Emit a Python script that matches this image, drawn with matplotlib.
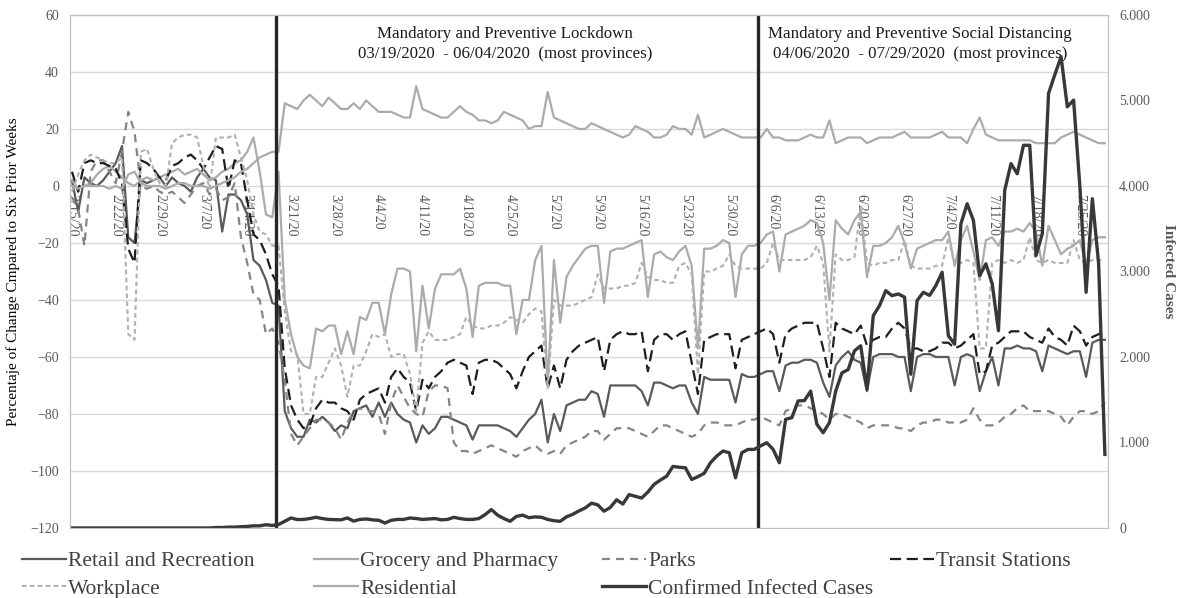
import numpy as np
import matplotlib
matplotlib.use("Agg")
from matplotlib import pyplot as plt
from matplotlib.ticker import FuncFormatter

plt.rcParams['font.family'] = ['Liberation Serif', 'DejaVu Serif']

# daily values, 2/15/20 .. 7/29/20 (one row = one week, Sat..Fri)
retail = [
    2, -9, 3, 1, 0, 2, 5,
    8, 14, -18, -20, 2, 1, 2,
    3, 0, 3, 1, 0, -2, 3,
    6, 3, 2, -16, -3, -3, -5,
    -10, -26, -28, -33, -41, -42, -79,
    -85, -88, -88, -82, -83, -81, -83,
    -86, -84, -85, -79, -78, -77, -81,
    -76, -81, -76, -80, -82, -83, -90,
    -84, -87, -85, -81, -81, -82, -83,
    -84, -89, -84, -84, -84, -84, -85,
    -86, -88, -85, -82, -80, -75, -90,
    -80, -86, -77, -76, -75, -75, -72,
    -73, -81, -70, -70, -70, -70, -70,
    -72, -77, -69, -69, -70, -71, -70,
    -70, -76, -80, -67, -68, -68, -68,
    -68, -76, -66, -67, -67, -66, -65,
    -65, -72, -63, -62, -62, -61, -61,
    -62, -69, -74, -63, -60, -58, -61,
    -62, -72, -60, -59, -59, -59, -60,
    -60, -72, -60, -59, -59, -60, -60,
    -60, -70, -60, -59, -60, -72, -65,
    -60, -70, -57, -57, -56, -57, -57,
    -58, -65, -56, -57, -58, -59, -58,
    -58, -67, -55, -54, -54]

grocery = [
    2, -1, 0, 1, 4, 6, 7,
    5, 3, 1, 0, 2, 3, 2,
    3, 4, 5, 6, 4, 5, 6,
    4, 2, 3, 5, 6, 8, 9,
    12, 17, 5, -10, -11, 5, -40,
    -52, -60, -63, -64, -50, -51, -49,
    -49, -59, -51, -59, -46, -47, -41,
    -41, -52, -38, -29, -29, -30, -58,
    -35, -50, -36, -31, -31, -31, -29,
    -36, -53, -35, -34, -34, -34, -35,
    -35, -52, -40, -40, -26, -21, -70,
    -26, -48, -32, -28, -25, -22, -21,
    -21, -41, -23, -22, -22, -21, -20,
    -19, -39, -24, -23, -25, -26, -23,
    -21, -28, -57, -22, -22, -21, -19,
    -20, -39, -24, -21, -21, -20, -17,
    -16, -30, -17, -16, -15, -14, -12,
    -13, -20, -40, -12, -15, -17, -12,
    -9, -32, -21, -21, -20, -18, -14,
    -20, -29, -22, -21, -20, -19, -19,
    -16, -28, -19, -14, -23, -33, -19,
    -18, -21, -16, -16, -15, -16, -13,
    -16, -28, -14, -19, -24, -22, -21,
    -19, -28, -19, -18, -18]

parks = [
    -4, -8, -21, 5, 9, 9, 5,
    1, 12, 26, 19, 0, -1, 0,
    -2, -3, -2, -4, -6, -3, 0,
    1, -3, -1, -5, -4, 1, -18,
    -27, -38, -40, -52, -50, -55, -68,
    -87, -91, -88, -85, -82, -82, -83,
    -85, -89, -83, -79, -78, -79, -79,
    -80, -87, -76, -70, -74, -78, -80,
    -81, -72, -70, -70, -71, -90, -93,
    -93, -94, -93, -92, -91, -92, -93,
    -94, -95, -93, -92, -91, -93, -94,
    -93, -94, -91, -90, -89, -88, -86,
    -86, -89, -87, -85, -85, -85, -86,
    -87, -88, -86, -84, -84, -85, -86,
    -87, -88, -87, -84, -83, -83, -84,
    -84, -84, -83, -82, -82, -81, -82,
    -83, -84, -79, -78, -77, -77, -78,
    -79, -80, -82, -80, -80, -81, -82,
    -83, -85, -84, -84, -84, -84, -85,
    -85, -86, -84, -83, -83, -82, -82,
    -83, -83, -83, -82, -78, -82, -84,
    -84, -83, -81, -80, -78, -77, -79,
    -79, -79, -79, -80, -81, -84, -81,
    -79, -79, -80, -79, -76]

transit = [
    5, -2, 8, 9, 8, 8, 7,
    6, 1, -22, -27, 9, 8, 6,
    3, 2, 7, 8, 10, 11, 9,
    6, 10, 14, 13, -1, 9, 8,
    -5, -17, -19, -24, -31, -35, -64,
    -77, -82, -85, -84, -78, -75, -76,
    -76, -78, -79, -82, -75, -73, -72,
    -71, -76, -67, -64, -67, -69, -79,
    -68, -71, -67, -65, -62, -61, -62,
    -63, -73, -62, -61, -61, -62, -64,
    -66, -71, -65, -60, -58, -56, -71,
    -63, -71, -61, -58, -56, -55, -54,
    -53, -65, -54, -52, -51, -52, -52,
    -51, -65, -54, -52, -52, -54, -52,
    -51, -62, -73, -54, -53, -52, -52,
    -52, -64, -54, -53, -52, -51, -50,
    -52, -62, -52, -50, -49, -48, -48,
    -48, -57, -67, -48, -50, -51, -52,
    -49, -56, -54, -53, -53, -50, -48,
    -50, -57, -57, -58, -58, -57, -55,
    -55, -57, -56, -54, -52, -66, -65,
    -56, -55, -53, -51, -51, -51, -53,
    -54, -55, -50, -53, -54, -56, -49,
    -51, -56, -53, -52, -51]

workplace = [
    -2, 4, 9, 11, 10, 9, 8,
    8, 10, -52, -54, 12, 13, 6,
    1, 0, 15, 17, 18, 18, 17,
    7, -1, 17, 17, 17, 18, 10,
    2, -10, -16, -17, -21, -21, -44,
    -58, -59, -80, -80, -67, -67, -62,
    -57, -63, -74, -63, -63, -58, -52,
    -53, -52, -60, -59, -59, -66, -79,
    -55, -51, -54, -54, -54, -53, -52,
    -46, -49, -50, -50, -49, -49, -48,
    -46, -47, -48, -45, -43, -44, -71,
    -40, -42, -42, -42, -41, -40, -39,
    -31, -36, -36, -36, -35, -35, -34,
    -27, -32, -33, -33, -34, -34, -28,
    -27, -31, -66, -30, -30, -29, -28,
    -24, -28, -29, -29, -29, -29, -27,
    -20, -26, -26, -26, -26, -26, -25,
    -21, -27, -58, -24, -26, -26, -25,
    -7, -27, -28, -27, -27, -26, -26,
    -19, -28, -29, -29, -29, -28, -28,
    -18, -28, -27, -26, -27, -57, -57,
    -27, -26, -27, -26, -27, -26, -18,
    -26, -27, -26, -27, -27, -27, -19,
    -26, -27, -26, -26, -26]

residential = [
    0, -1, 0, 0, 0, 0, -1,
    0, -1, 4, 5, 1, 0, 0,
    0, -1, 0, 1, 1, 0, 0,
    0, -1, 0, 1, 2, 3, 5,
    6, 8, 10, 11, 12, 12, 29,
    28, 27, 30, 32, 30, 28, 31,
    29, 27, 27, 29, 27, 30, 28,
    26, 26, 26, 25, 24, 24, 35,
    27, 26, 25, 24, 24, 26, 28,
    26, 25, 23, 23, 22, 23, 26,
    25, 24, 23, 20, 21, 21, 33,
    24, 23, 22, 21, 20, 20, 22,
    21, 20, 19, 18, 17, 18, 21,
    20, 19, 17, 17, 18, 21, 20,
    20, 18, 25, 17, 18, 19, 20,
    19, 18, 17, 17, 17, 17, 20,
    17, 17, 16, 16, 16, 17, 18,
    17, 17, 23, 15, 16, 17, 17,
    17, 15, 16, 17, 17, 17, 18,
    19, 17, 17, 17, 17, 18, 19,
    17, 17, 17, 15, 20, 24, 18,
    17, 16, 16, 16, 16, 16, 16,
    15, 15, 15, 15, 17, 18, 19,
    18, 17, 16, 15, 15]

cases = [
    0, 0, 0, 0, 0, 0, 0,
    0, 0, 0, 0, 0, 0, 0,
    0, 0, 0, 0, 0, 0, 0,
    0, 0, 5, 5, 10, 10, 15,
    18, 25, 25, 38, 30, 40, 78,
    117, 98, 100, 110, 125, 110, 100,
    98, 95, 117, 80, 100, 105, 95,
    90, 58, 90, 100, 100, 117, 110,
    100, 105, 110, 95, 100, 125, 110,
    100, 100, 110, 156, 215, 150, 110,
    78, 135, 150, 120, 130, 125, 100,
    85, 78, 130, 160, 200, 235, 290,
    270, 196, 240, 330, 280, 390, 370,
    350, 420, 510, 560, 606, 720, 710,
    704, 567, 600, 640, 763, 841, 900,
    880, 587, 880, 919, 919, 960, 997,
    920, 763, 1271, 1290, 1486, 1490, 1600,
    1212, 1114, 1232, 1600, 1814, 1853, 2072,
    2131, 1622, 2483, 2600, 2776, 2717, 2737,
    2700, 1798, 2659, 2757, 2720, 2835, 2991,
    2248, 2150, 3557, 3792, 3597, 2952, 3089,
    2854, 2307, 3948, 4261, 4143, 4476, 4476,
    3186, 3440, 5082, 5300, 5512, 4926, 5004,
    4000, 2757, 3851, 3089, 860]

week_labels = ['2/15/20', '2/22/20', '2/29/20', '3/7/20', '3/14/20', '3/21/20',
               '3/28/20', '4/4/20', '4/11/20', '4/18/20', '4/25/20', '5/2/20',
               '5/9/20', '5/16/20', '5/23/20', '5/30/20', '6/6/20', '6/13/20',
               '6/20/20', '6/27/20', '7/4/20', '7/11/20', '7/18/20', '7/25/20']

phase_days = [32.6, 109.6]
phase_texts = ["Mandatory and Preventive Lockdown\n03/19/2020  - 06/04/2020  (most provinces)",
               "Mandatory and Preventive Social Distancing\n04/06/2020  - 07/29/2020  (most provinces)"]
phase_text_days = [69.2, 135.5]

days = np.arange(len(cases))

fig = plt.figure(figsize=(11.81, 5.98), dpi=100)
ax = fig.add_axes([0.0593, 0.1171, 0.8789, 0.8579])
ax2 = ax.twinx()

styles = [
    ('Retail and Recreation', retail, '#5a5a5a', '-', 1.6),
    ('Grocery and Pharmacy', grocery, '#ababab', '-', 1.6),
    ('Parks', parks, '#858585', (0, (3.6, 2.7)), 1.6),
    ('Transit Stations', transit, '#1e1e1e', (0, (5.0, 2.5)), 1.6),
    ('Workplace', workplace, '#b0b0b0', (0, (2.2, 1.6)), 1.5),
    ('Residential', residential, '#ababab', '-', 1.6),
]
handles = {}
for name, vals, col, ls, lw in styles:
    h, = ax.plot(days, vals, color=col, linestyle=ls, lw=lw, label=name)
    handles[name] = h

hc, = ax2.plot(days, cases, color='#383838', lw=2.4, label='Confirmed Infected Cases')
handles['Confirmed Infected Cases'] = hc

for d in phase_days:
    ax.axvline(d, color='#262626', lw=2.4, zorder=5)
for d, t in zip(phase_text_days, phase_texts):
    ax.text(d, 49.8, t, ha='center', va='center', fontsize=12.2, color='#1a1a1a',
            linespacing=1.4)

ax.set_xlim(-0.3, 165.5)
ax.set_ylim(-120, 60)
ax.set_yticks(range(-120, 61, 20))
ax.grid(axis='y', color='#d9d9d9', lw=1)
ax.set_axisbelow(True)
ax2.set_ylim(0, 6000)
ax2.set_yticks(range(0, 6001, 1000))
ax2.yaxis.set_major_formatter(FuncFormatter(lambda v, p: f"{int(v):,}".replace(',', '.')))

ax.spines['bottom'].set_position(('data', 0))
ax.spines['bottom'].set_visible(False)
ax.set_xticks(days[::7])
ax.set_xticklabels(week_labels, rotation=-90, fontsize=10, color='#595959', va='top')
ax.tick_params(axis='x', length=0, pad=6)
ax.tick_params(axis='y', length=0, labelsize=10, labelcolor='#595959', pad=8)
ax2.tick_params(axis='y', length=0, labelsize=10, labelcolor='#595959', pad=8)

for a in (ax, ax2):
    for s in ('top', 'left', 'right'):
        a.spines[s].set_color('#bfbfbf')
ax2.spines['bottom'].set_color('#bfbfbf')
ax2.spines['bottom'].set_visible(True)

ax.set_ylabel('Percentaje of Change Cmpared to Six Prior Weeks', fontsize=11)
ax.yaxis.set_label_coords(-0.048, 0.5)
ax2.set_ylabel('Infected Cases', fontsize=11, fontweight='bold', color='#595959',
               rotation=-90, va='center')
ax2.yaxis.set_label_coords(1.0578, 0.5)

legend_cols = [
    (0.0186, ['Retail and Recreation', 'Workplace']),
    (0.2659, ['Grocery and Pharmacy', 'Residential']),
    (0.5097, ['Parks', 'Confirmed Infected Cases']),
    (0.7536, ['Transit Stations']),
]
for x, names in legend_cols:
    fig.legend([handles[n] for n in names], names, loc='upper left',
               bbox_to_anchor=(x, 0.078), frameon=False, fontsize=15.5,
               handlelength=2.05, handletextpad=0.1, labelspacing=0.35,
               borderpad=0, borderaxespad=0, labelcolor='#404040')

fig.savefig('out.png', dpi=100)
